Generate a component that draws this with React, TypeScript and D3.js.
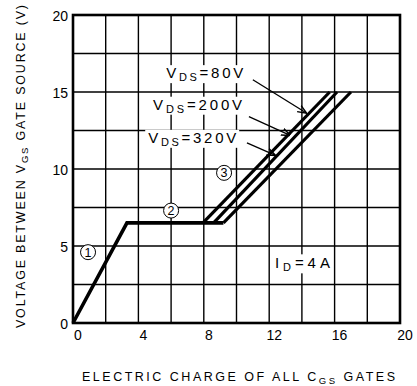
import React from "react";
import * as d3 from "d3";

// ---- data ----
const xTicks = [0, 4, 8, 12, 16, 20];
const yTicks = [0, 5, 10, 15, 20];
const xGrid = [2, 4, 6, 8, 10, 12, 14, 16, 18];
const yGrid = [2.5, 5, 7.5, 10, 12.5, 15, 17.5];

// region ① rise and region ② plateau
const riseQ = [0, 3.3];
const riseV = [0, 6.5];
const plateauV = 6.5;
const topV = 15;

// region ③ branches for each VDS
const vdsLabels = ["80V", "200V", "320V"];
const branchStartQ = [8.1, 8.6, 9.2];
const branchEndQ = [15.7, 16.15, 17.0];

// annotation arrows (label start -> tip on curve), data units
const arrowFromQ = [11.0, 10.76, 10.64];
const arrowFromV = [15.8, 13.4, 11.7];
const arrowToQ = [14.25, 13.25, 12.35];
const arrowToV = [13.65, 12.2, 10.9];
const labelQ = [5.7, 4.9, 4.6];
const labelV = [15.9, 13.85, 11.7];
const labelWidth = [77, 89, 88];

const regionNames = ["1", "2", "3"];
const regionQ = [0.92, 6.0, 9.24];
const regionV = [4.6, 7.3, 9.75];

const idLabel = { q: 14.0, v: 3.55 };

export default function App() {
  const x = d3.scaleLinear().domain([0, 20]).range([73, 400]);
  const y = d3.scaleLinear().domain([0, 20]).range([323, 15]);
  const line = d3
    .line<[number, number]>()
    .x((d) => x(d[0]))
    .y((d) => y(d[1]));

  const font = "Liberation Sans, Arial, Helvetica, sans-serif";

  const mainPath: [number, number][] = [
    [riseQ[0], riseV[0]],
    [riseQ[1], riseV[1]],
    [branchStartQ[branchStartQ.length - 1], plateauV],
  ];

  return (
    <svg
      width={417}
      height={386}
      style={{ position: "absolute", left: 0, top: 0, background: "#fff" }}
      fontFamily={font}
    >
      <defs>
        <marker
          id="ah"
          viewBox="0 0 10 10"
          refX="9"
          refY="5"
          markerWidth="7"
          markerHeight="7"
          orient="auto"
        >
          <path d="M0,1 L10,5 L0,9" fill="none" stroke="#000" strokeWidth="1.5" />
        </marker>
      </defs>
      {/* grid */}
      {xGrid.map((g) => (
        <line key={"xg" + g} x1={x(g)} x2={x(g)} y1={y(0)} y2={y(20)} stroke="#000" strokeWidth={1.4} />
      ))}
      {yGrid.map((g) => (
        <line key={"yg" + g} x1={x(0)} x2={x(20)} y1={y(g)} y2={y(g)} stroke="#000" strokeWidth={1.4} />
      ))}
      {/* frame */}
      <rect x={x(0)} y={y(20)} width={x(20) - x(0)} height={y(0) - y(20)} fill="none" stroke="#000" strokeWidth={2.6} />

      {/* curves */}
      <path d={line(mainPath) || ""} fill="none" stroke="#000" strokeWidth={3.6} strokeLinejoin="miter" />
      {vdsLabels.map((l, i) => (
        <path
          key={"b" + l}
          d={
            line([
              [branchStartQ[i] - (i === 0 ? 0.15 : 0), plateauV],
              [branchEndQ[i], topV],
            ]) || ""
          }
          fill="none"
          stroke="#000"
          strokeWidth={3.2}
        />
      ))}

      {/* VDS labels */}
      {vdsLabels.map((l, i) => (
        <g key={"lab" + l}>
          <rect x={x(labelQ[i]) - 3} y={y(labelV[i]) - 13} width={labelWidth[i] + 6} height={18} fill="#fff" />
          <text
            x={x(labelQ[i])}
            y={y(labelV[i])}
            fontSize={15}
            textLength={labelWidth[i]}
            lengthAdjust="spacing"
          >
            V<tspan fontSize={11} dy={3}>DS</tspan>
            <tspan dy={-3}>{"=" + l}</tspan>
          </text>
          <line
            x1={x(arrowFromQ[i])}
            y1={y(arrowFromV[i])}
            x2={x(arrowToQ[i])}
            y2={y(arrowToV[i])}
            stroke="#000"
            strokeWidth={1.3}
            markerEnd="url(#ah)"
          />
        </g>
      ))}

      {/* region markers */}
      {regionNames.map((r, i) => (
        <g key={"r" + i}>
          <circle cx={x(regionQ[i])} cy={y(regionV[i])} r={7.5} fill="#fff" stroke="#000" strokeWidth={1} />
          <text
            x={x(regionQ[i])}
            y={y(regionV[i]) + 4.5}
            textAnchor="middle"
            fontSize={12.5}
          >
            {r}
          </text>
        </g>
      ))}

      {/* ID label */}
      <rect x={x(idLabel.q) - 30} y={y(idLabel.v) - 14} width={60} height={19} fill="#fff" />
      <text
        x={x(idLabel.q) - 27}
        y={y(idLabel.v)}
        fontSize={15}
        textLength={55}
        lengthAdjust="spacing"
      >
        I<tspan fontSize={11} dy={3}>D</tspan>
        <tspan dy={-3}>{"=4A"}</tspan>
      </text>

      {/* tick labels */}
      {yTicks.map((t) => (
        <text key={"yt" + t} x={68} y={y(t) + 5.5} textAnchor="end" fontSize={14}>
          {t}
        </text>
      ))}
      {xTicks.map((t) => (
        <text key={"xt" + t} x={x(t) + 5} y={340} textAnchor="middle" fontSize={14}>
          {t}
        </text>
      ))}

      {/* axis titles */}
      <text x={82} y={381} fontSize={12.5} textLength={313} lengthAdjust="spacing">
        ELECTRIC CHARGE OF ALL C<tspan fontSize={9.5} dy={2.5}>GS</tspan>
        <tspan dy={-2.5}> GATES</tspan>
      </text>
      <text
        transform="translate(25,328) rotate(-90)"
        x={0}
        y={0}
        fontSize={12.5}
        textLength={323}
        lengthAdjust="spacing"
      >
        VOLTAGE BETWEEN V<tspan fontSize={9.5} dy={2.5}>GS</tspan>
        <tspan dy={-2.5}> GATE SOURCE (V)</tspan>
      </text>
    </svg>
  );
}
